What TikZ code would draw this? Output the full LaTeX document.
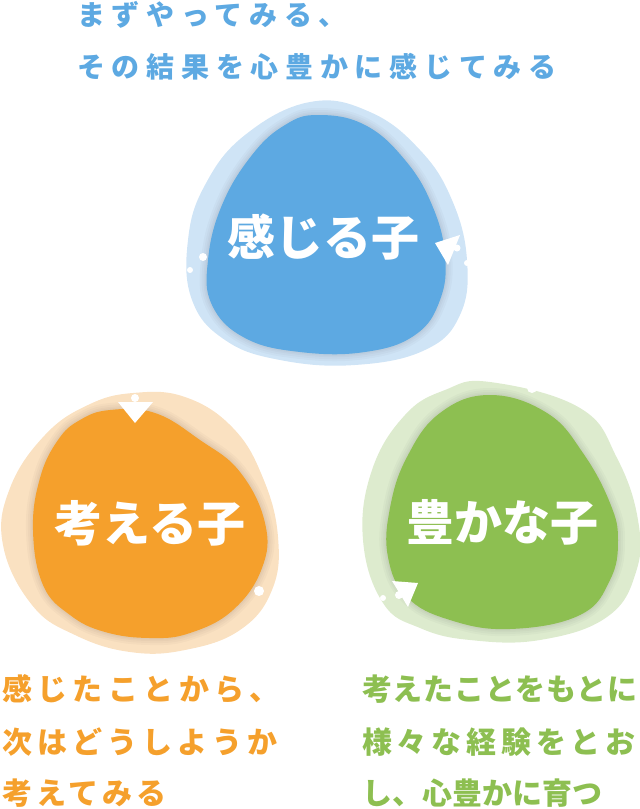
\documentclass[tikz,border=0pt]{standalone}
\usepackage{fontspec}
\newfontfamily\jpfont{Noto Sans CJK JP}
\usetikzlibrary{positioning}
\definecolor{feelC}{HTML}{5DA9E2}
\definecolor{feelL}{HTML}{CFE4F6}
\definecolor{thinkC}{HTML}{F5A02C}
\definecolor{thinkL}{HTML}{FAE1C1}
\definecolor{richC}{HTML}{8DBF51}
\definecolor{richL}{HTML}{DDEBCE}

\begin{document}
\begin{tikzpicture}
  [x=1pt,y=-1pt,
   blobShadow/.style={draw=black,opacity=0.022,line width=#1},
   bigLabel/.style={text=white,inner sep=0pt,anchor=base,
     font=\jpfont\bfseries\fontsize{48}{48}\selectfont},
   noteN/.style={inner sep=0pt,anchor=base west,
     font=\jpfont\bfseries\fontsize{#1}{#1}\selectfont},
   tipN/.style={fill=white},
   dotN/.style={fill=white}]

  \useasboundingbox (0,0) rectangle (640,809);

  % blue
  \fill[feelL] plot[smooth cycle,tension=0.7] coordinates {(310,102) (370,112) (420,150) (452,200) (467,260) (460,315) (425,350) (355,365) (280,360) (225,340) (192,300) (188,240) (205,185) (245,135)};
  \foreach \w in {14,10,6,3}
    \draw[blobShadow=\w pt] plot[smooth cycle,tension=0.7] coordinates {(318,115) (365,125) (405,160) (432,205) (445,255) (440,300) (415,335) (365,352) (300,352) (245,338) (212,305) (208,260) (222,205) (252,155) (285,125)};
  \fill[feelC] plot[smooth cycle,tension=0.7] coordinates {(318,115) (365,125) (405,160) (432,205) (445,255) (440,300) (415,335) (365,352) (300,352) (245,338) (212,305) (208,260) (222,205) (252,155) (285,125)};

  % orange
  \fill[thinkL] plot[smooth cycle,tension=0.7] coordinates {(133,393) (185,397) (233,428) (263,478) (278,537) (272,590) (240,630) (185,650) (130,652) (75,635) (32,605) (3,545) (10,488) (45,435) (88,405)};
  \foreach \w in {14,10,6,3}
    \draw[blobShadow=\w pt] plot[smooth cycle,tension=0.7] coordinates {(110,410) (155,413) (200,440) (240,472) (265,523) (262,568) (233,610) (190,633) (150,638) (105,632) (70,615) (43,585) (33,530) (40,478) (58,440) (80,420)};
  \fill[thinkC] plot[smooth cycle,tension=0.7] coordinates {(110,410) (155,413) (200,440) (240,472) (265,523) (262,568) (233,610) (190,633) (150,638) (105,632) (70,615) (43,585) (33,530) (40,478) (58,440) (80,420)};

  % green
  \fill[richL] plot[smooth cycle,tension=0.7] coordinates {(490,382) (580,408) (617,458) (638,520) (636,572) (607,617) (540,640) (470,640) (420,628) (383,603) (363,540) (372,470) (405,415) (445,390)};
  \foreach \w in {14,10,6,3}
    \draw[blobShadow=\w pt] plot[smooth cycle,tension=0.7] coordinates {(490,395) (547,413) (583,453) (610,503) (618,540) (610,580) (580,615) (510,629) (450,620) (407,597) (388,557) (390,508) (407,457) (440,413)};
  \fill[richC] plot[smooth cycle,tension=0.7] coordinates {(490,395) (547,413) (583,453) (610,503) (618,540) (610,580) (580,615) (510,629) (450,620) (407,597) (388,557) (390,508) (407,457) (440,413)};

  % tips and dots
  \fill[tipN] (435,243) -- (460,235) -- (448,265) -- cycle;
  \fill[tipN] (118,402) -- (153,402) -- (135,423) -- cycle;
  \fill[tipN] (392,581) -- (418,583) -- (408,607) -- cycle;
  \fill[dotN] (203,257) circle (4);
  \fill[dotN] (190,270) circle (3);
  \fill[dotN] (457,248) circle (3.5);
  \fill[dotN] (467,263) circle (3);
  \fill[dotN] (135,398) circle (4);
  \fill[dotN] (259,591) circle (5);
  \fill[dotN] (532,388) circle (5);
  \fill[dotN] (399,595) circle (4);
  \fill[dotN] (383,598) circle (3);

  % labels
  \node[bigLabel] (feel) at (323,255) {感じる子};
  \node[bigLabel] (think) at (150,541) {考える子};
  \node[bigLabel] (rich) at (502,540) {豊かな子};

  % notes
  \node[noteN=28,text=feelC] (feelA) at (77,25.4) {\addfontfeature{LetterSpace=24}まずやってみる、};
  \node[noteN=28,text=feelC] (feelB) at (77,77.4) {\addfontfeature{LetterSpace=24}その結果を心豊かに感じてみる};

  \node[noteN=30,text=thinkC] (thinkA) at (2,700) {\addfontfeature{LetterSpace=18}感じたことから、};
  \node[noteN=30,text=thinkC] (thinkB) at (2,753) {\addfontfeature{LetterSpace=17}次はどうしようか};
  \node[noteN=30,text=thinkC] (thinkZ) at (2,804) {\addfontfeature{LetterSpace=13}考えてみる};

  \node[noteN=30,text=richC] (richA) at (362,700) {\addfontfeature{LetterSpace=2.5}考えたことをもとに};
  \node[noteN=30,text=richC] (richB) at (362,753) {\addfontfeature{LetterSpace=16}様々な経験をとお};
  \node[noteN=30,text=richC] (richZ) at (362,804) {し、心豊かに育つ};

\end{tikzpicture}
\end{document}
